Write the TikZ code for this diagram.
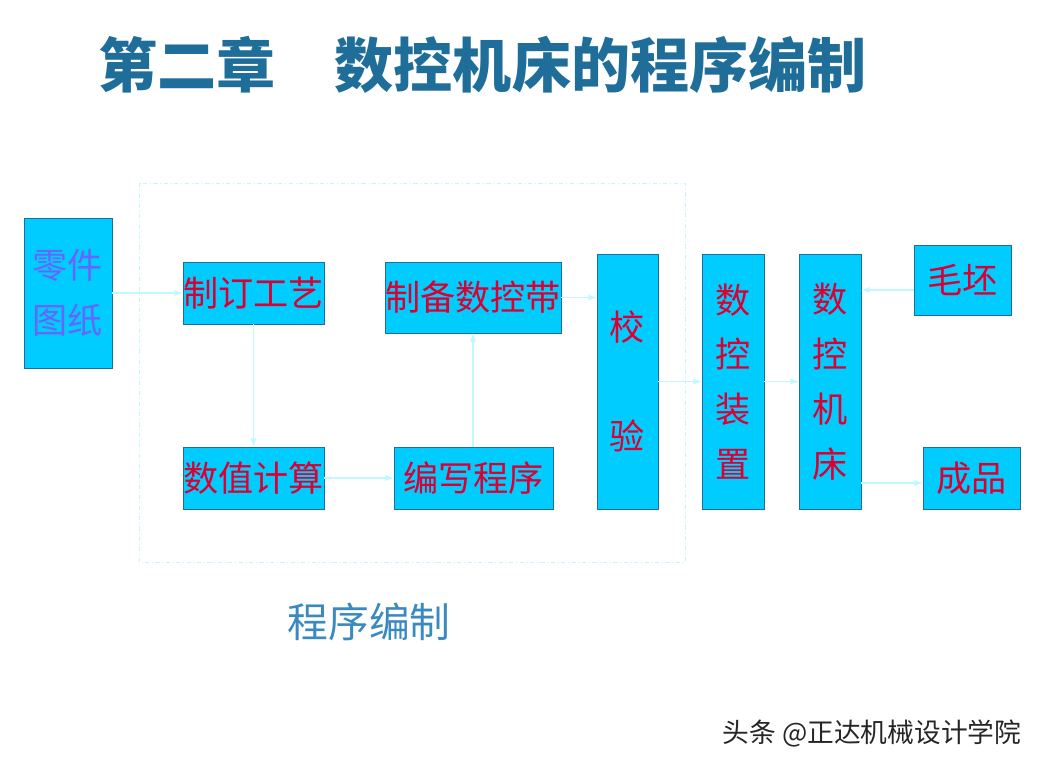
\documentclass[tikz,border=0pt]{standalone}
\usepackage{xcolor}
\usepackage{tikz}
\usepackage{fontspec}
\usetikzlibrary{shapes,arrows,positioning,calc}
\newfontfamily\cjk{Noto Sans CJK SC}
\definecolor{boxfill}{HTML}{00CCFF}
\definecolor{boxline}{HTML}{1F6E9A}
\definecolor{boxtext}{HTML}{DC0032}
\definecolor{paletext}{HTML}{6666FF}
\definecolor{flow}{HTML}{C0F8FF}
\definecolor{titleblue}{HTML}{1F6E9A}
\definecolor{subblue}{HTML}{3A8AC0}

\begin{document}
\begin{tikzpicture}[x=0.025cm,y=-0.025cm,
    box/.style={draw=boxline,fill=boxfill,line width=0.6pt,inner sep=0pt,
        text=boxtext,font=\cjk\fontsize{25}{39}\selectfont,align=center},
    flowarrow/.style={-latex,flow,line width=1pt}]
    \useasboundingbox (0,0) rectangle (1042,769);

    % Title
    \node[titleblue,font=\cjk\bfseries\fontsize{42}{42}\selectfont] (title) at (482.5,65) {第二章\quad 数控机床的程序编制};

    % Programming frame
    \draw[flow,dash dot,line width=0.6pt] (139,183) rectangle (685,562);
    \node[subblue,font=\cjk\fontsize{29}{29}\selectfont] (progtitle) at (369,622) {程序编制};

    % Boxes
    \node[box,text=paletext,minimum width=2.2cm,minimum height=3.75cm] (drawing) at (68,293) {零件\\图纸};
    \node[box,minimum width=3.525cm,minimum height=1.55cm] (craft) at (253.5,293) {制订工艺};
    \node[box,minimum width=3.525cm,minimum height=1.55cm] (calc) at (253.5,478) {数值计算};
    \node[box,minimum width=4.4cm,minimum height=1.775cm] (tape) at (473,297.5) {制备数控带};
    \node[box,minimum width=3.975cm,minimum height=1.55cm] (prog) at (473.5,478) {编写程序};
    \node[box,minimum width=1.525cm,minimum height=6.375cm] (check) at (627.5,381.5) {校\\[39pt]验};
    \node[box,minimum width=1.55cm,minimum height=6.375cm] (device) at (733,381.5) {数\\控\\装\\置};
    \node[box,minimum width=1.55cm,minimum height=6.375cm] (machine) at (830,381.5) {数\\控\\机\\床};
    \node[box,minimum width=2.425cm,minimum height=1.75cm] (blank) at (962.5,280) {毛坯};
    \node[box,minimum width=2.425cm,minimum height=1.55cm] (product) at (971.5,478) {成品};

    % Flow
    \coordinate (blankin) at ([yshift=-0.25cm]blank.west);
    \coordinate (productin) at ([yshift=-0.125cm]product.west);
    \draw[flowarrow] (drawing) -- (craft);
    \draw[flowarrow] (craft) -- (calc);
    \draw[flowarrow] (prog.north -| tape.south) -- (tape.south);
    \draw[flowarrow] (calc) -- (prog);
    \draw[flowarrow] (tape.east) -- (check.west |- tape.east);
    \draw[flowarrow] (check) -- (device);
    \draw[flowarrow] (device) -- (machine);
    \draw[flowarrow] (blankin) -- (machine.east |- blankin);
    \draw[flowarrow] (machine.east |- productin) -- (productin);

    % Watermark
    \node[black!85,font=\cjk\fontsize{19}{19}\selectfont] (mark) at (872,733) {头条 @正达机械设计学院};
\end{tikzpicture}
\end{document}
